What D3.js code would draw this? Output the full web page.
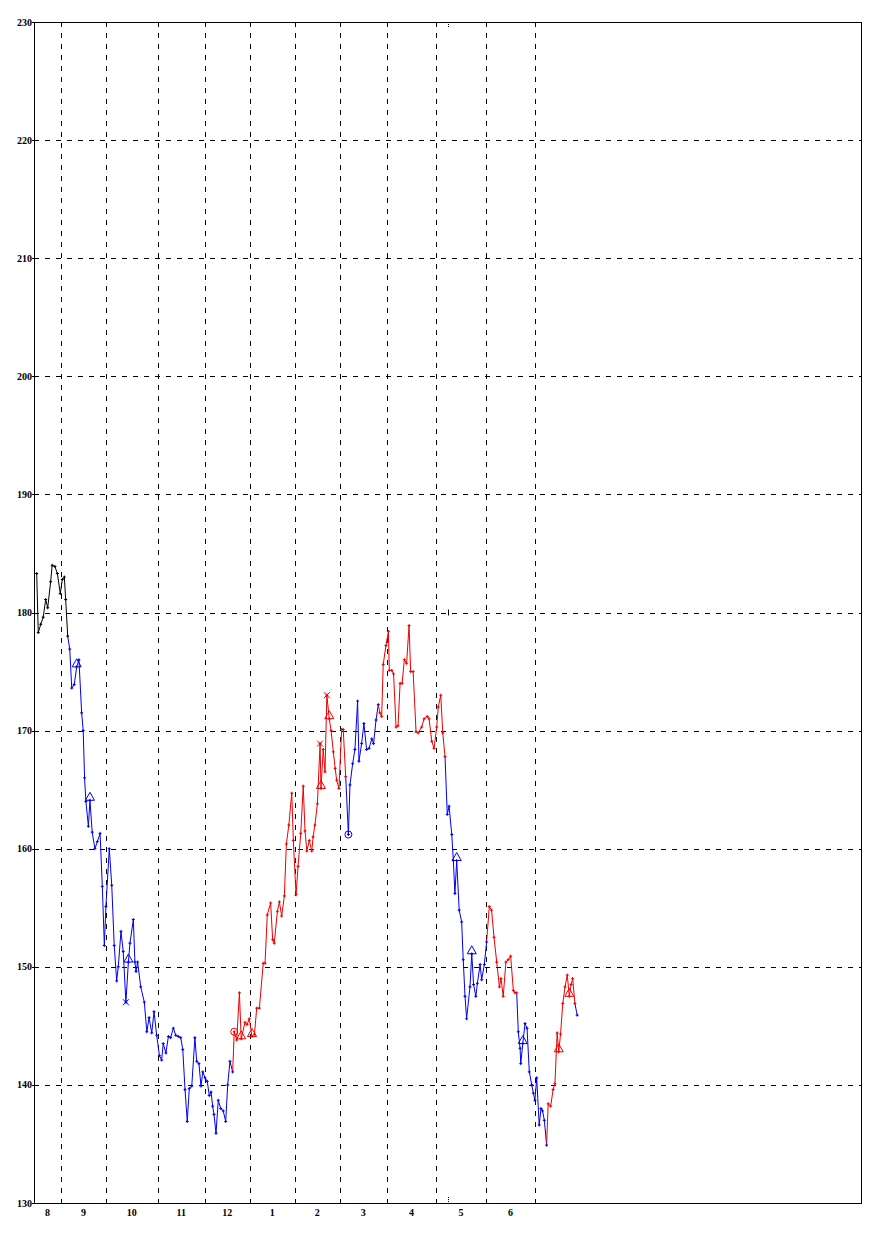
<!DOCTYPE html>
<html><head><meta charset="utf-8">
<script src="https://cdn.jsdelivr.net/npm/d3@7"></script>
<style>html,body{margin:0;padding:0;background:#fff;}</style>
</head><body>
<script>
// ---------------- data ----------------
const days = [1.2,1.9,3.0,4.1,5.2,6.1,7.4,8.1,9.3,10.4,11.7,12.6,13.5,14.1,15.0,
15.9,16.8,17.9,19.0,20.0,21.2,21.9,22.5,23.1,24.2,24.9,25.9,27.1,28.2,29.4,30.4,31.3,32.0,33.5,34.6,35.7,36.8,37.5,38.7,39.7,40.9,42.0,42.7,44.2,44.9,45.4,46.1,47.5,49.1,50.2,51.2,52.4,53.4,54.6,55.8,56.8,57.5,58.7,59.8,60.8,62.0,63.1,64.2,65.3,66.2,67.2,68.2,69.1,70.2,71.6,72.4,73.4,74.3,75.1,76.1,77.1,78.0,78.8,79.5,80.1,81.0,82.0,83.1,84.2,85.3,86.2,87.2,88.4,
89.1,90.2,91.4,92.2,93.9,94.8,95.8,97.0,98.1,99.1,100.3,102.0,102.8,103.8,105.3,106.2,106.9,108.3,109.2,110.2,111.4,112.3,113.4,114.7,115.4,116.6,117.5,118.7,119.8,120.6,121.4,122.5,123.6,124.2,125.0,126.1,127.3,127.7,128.7,129.5,130.3,131.4,132.2,133.2,134.0,134.7,135.7,136.9,137.6,138.7,
139.9,140.6,141.8,142.8,144.0,144.6,145.8,146.8,148.0,149.1,150.3,151.1,152.2,153.2,
153.9,154.7,155.4,156.6,157.7,158.1,159.2,160.0,161.1,162.0,162.9,163.8,164.8,165.8,166.9,167.6,168.7,170.0,171.0,172.5,173.6,175.0,175.8,177.0,178.0,179.2,179.9,181.0,181.9,182.9,
183.9,184.7,185.9,186.6,187.3,188.1,189.2,190.3,191.0,191.8,192.5,194.0,194.8,195.6,196.6,197.3,198.5,199.2,200.4,201.4,
202.6,203.6,204.7,205.9,207.1,207.8,208.8,210.0,211.0,212.1,213.3,214.0,214.8,
215.5,216.3,216.6,217.5,218.5,219.4,220.4,221.5,222.2,222.9,223.7,224.8,225.6,226.3,227.1,228.1,
228.8,229.9,231.0,231.8,232.8,233.5,234.3,235.3,236.3,237.3,238.2,239.0,239.7,240.7,
241.7];
const values = [183.3,178.3,179.0,179.6,181.1,180.4,182.6,184.0,183.9,183.3,181.6,182.8,183.0,181.1,178.0,
176.9,173.6,173.9,175.4,176.0,171.5,170.0,166.0,164.0,161.9,164.1,161.4,160.0,160.6,161.3,156.8,151.8,155.1,160.0,156.9,151.8,148.8,150.0,153.0,151.3,147.0,150.4,152.0,154.0,150.4,149.6,150.4,148.3,147.0,144.5,145.7,144.4,146.2,144.2,142.5,142.1,143.5,142.7,144.1,144.0,144.8,144.2,144.1,144.0,143.0,139.6,136.9,139.7,139.9,144.0,142.0,141.8,139.9,141.1,140.6,140.3,139.1,139.4,138.2,137.5,135.9,138.7,138.0,137.8,136.9,140.0,142.0,141.1,
144.5,143.8,147.8,143.9,145.3,145.1,145.6,144.1,144.3,146.5,146.5,150.3,150.3,154.4,155.4,152.3,152.0,154.7,155.5,154.3,156.0,160.4,162.0,164.7,160.7,156.1,158.5,161.3,165.3,161.5,159.8,160.7,159.8,161.0,162.0,163.8,168.9,165.1,168.4,166.5,173.0,171.0,170.0,168.2,166.8,165.8,165.1,170.1,170.1,166.1,
161.2,165.4,167.2,168.4,172.5,167.4,168.9,170.6,168.4,168.5,169.3,168.9,170.9,172.2,
171.5,171.2,175.6,177.2,178.4,175.1,175.1,174.8,170.3,170.4,174.0,174.0,176.0,175.7,178.9,175.0,175.0,169.9,169.8,170.3,171.0,171.2,171.0,169.1,168.5,170.3,172.0,173.0,169.8,167.8,
162.9,163.6,161.2,159.0,156.2,159.0,154.8,153.8,150.6,147.5,145.6,148.3,151.1,148.5,147.5,148.6,150.2,148.9,150.2,152.1,
155.1,154.8,152.5,150.4,148.3,149.0,147.5,150.4,150.6,150.9,148.0,147.8,147.8,
144.5,143.1,141.8,143.5,145.2,144.8,141.1,140.0,139.3,138.7,140.6,136.6,138.0,137.8,137.0,134.9,
138.4,138.2,139.6,140.1,144.4,142.8,144.3,146.9,148.3,149.3,147.5,148.5,149.0,146.9,
145.9];
// index of the last point of each trend segment, and the trend of each segment
const segmentEnds = [14, 87, 137, 151, 181, 201, 214, 230, 244, 245];
const segmentTrend = ["start","down","up","down","up","down","up","down","up","down"];
// signal markers (index into days/values)
const triangleIdx = [18, 25, 41, 91, 95, 125, 129, 187, 194, 218, 236, 241];
const crossIdx = [40, 124, 128];
const circleIdx = [88, 138];
// axis
const monthBounds = [12, 32, 55, 76, 96, 116, 136, 157, 179, 201, 223];
const monthLabels = ["8","9","10","11","12","1","2","3","4","5","6"];
const monthLabelDays = [6, 22, 43.5, 65.5, 86, 106, 126, 146.5, 168, 190, 212];
const yTicks = [130,140,150,160,170,180,190,200,210,220,230];
const markerDay = 184;

// ---------------- drawing ----------------
const W = 877, H = 1240;
const L = 34, R = 861, T = 22, B = 1203;
const svg = d3.select("body").append("svg").attr("width", W).attr("height", H)
  .style("display","block");
const x = d3.scaleLinear().domain([0, 368]).range([L, R]);
const y = d3.scaleLinear().domain([130, 230]).range([B, T]);
const font = "'Liberation Serif','DejaVu Serif',serif";
const colorOf = {start:"#000000", down:"#0000ee", up:"#ee0000"};

// grid
const grid = svg.append("g").attr("stroke","#000").attr("stroke-width",1)
  .attr("stroke-dasharray","5,6").attr("shape-rendering","crispEdges");
grid.selectAll("line.h").data(yTicks.filter(v => v > 130 && v < 230)).join("line")
  .attr("x1", L).attr("x2", R).attr("y1", d => Math.round(y(d)) + 0.5).attr("y2", d => Math.round(y(d)) + 0.5);
grid.selectAll("line.v").data(monthBounds).join("line")
  .attr("class","v")
  .attr("x1", d => Math.round(x(d)) + 0.5).attr("x2", d => Math.round(x(d)) + 0.5)
  .attr("y1", T).attr("y2", B);

// frame
svg.append("rect").attr("x", L + 0.5).attr("y", T + 0.5).attr("width", R - L).attr("height", B - T)
  .attr("fill","none").attr("stroke","#000").attr("stroke-width",1).attr("shape-rendering","crispEdges");

// y labels
svg.append("g").selectAll("text").data(yTicks).join("text")
  .attr("x", L - 2).attr("y", d => y(d) + 3.5)
  .attr("text-anchor","end").attr("font-family", font).attr("font-weight","bold")
  .attr("font-size", 10).text(d => d);
// y tick stubs
svg.append("g").selectAll("line").data(yTicks).join("line")
  .attr("x1", L - 2).attr("x2", L).attr("y1", d => Math.round(y(d)) + 0.5).attr("y2", d => Math.round(y(d)) + 0.5)
  .attr("stroke","#000");

// x labels
svg.append("g").selectAll("text").data(monthLabels).join("text")
  .attr("x", (d, i) => x(monthLabelDays[i])).attr("y", B + 13)
  .attr("text-anchor","middle").attr("font-family", font).attr("font-weight","bold")
  .attr("font-size", 10).text(d => d);

// current-day marker ticks
const mx = Math.round(x(markerDay)) + 0.5;
svg.append("line").attr("x1", mx).attr("x2", mx).attr("y1", T).attr("y2", T + 6)
  .attr("stroke","#000").attr("stroke-dasharray","1,1");
svg.append("line").attr("x1", mx).attr("x2", mx).attr("y1", B - 6).attr("y2", B)
  .attr("stroke","#000").attr("stroke-dasharray","1,1");
svg.append("line").attr("x1", mx).attr("x2", mx).attr("y1", y(180) - 3).attr("y2", y(180) + 3).attr("stroke","#000");

// line segments
const pts = days.map((d, i) => ({d, v: values[i], i}));
const segOf = i => segmentEnds.findIndex(e => i <= e);
const line = d3.line().x(p => x(p.d)).y(p => y(p.v));
let start = 0;
segmentEnds.forEach((end, s) => {
  const seg = pts.slice(start, end + 1);
  svg.append("path").datum(seg).attr("d", line).attr("fill","none")
    .attr("stroke", colorOf[segmentTrend[s]]).attr("stroke-width", 1);
  start = end;
});

// small point ticks
const pc = p => colorOf[segmentTrend[segOf(p.i)]];
svg.append("g").selectAll("path").data(pts).join("path")
  .attr("d", p => `M${x(p.d)-1.5},${y(p.v)}h3M${x(p.d)},${y(p.v)-1.5}v3`)
  .attr("stroke", pc).attr("stroke-width", 1);

// triangles
svg.append("g").selectAll("path").data(triangleIdx.map(i => pts[i])).join("path")
  .attr("d", p => { const cx = x(p.d), cy = y(p.v); return `M${cx},${cy-8}L${cx+4.5},${cy}L${cx-4.5},${cy}Z`; })
  .attr("fill","none").attr("stroke", pc).attr("stroke-width", 1);
// crosses
svg.append("g").selectAll("path").data(crossIdx.map(i => pts[i])).join("path")
  .attr("d", p => { const cx = x(p.d), cy = y(p.v); return `M${cx-3},${cy-3}L${cx+3},${cy+3}M${cx+3},${cy-3}L${cx-3},${cy+3}`; })
  .attr("stroke", pc).attr("stroke-width", 1);
// circles
svg.append("g").selectAll("circle").data(circleIdx.map(i => pts[i])).join("circle")
  .attr("cx", p => x(p.d)).attr("cy", p => y(p.v)).attr("r", 3.5)
  .attr("fill","none").attr("stroke", pc).attr("stroke-width", 1);
</script>
</body></html>
